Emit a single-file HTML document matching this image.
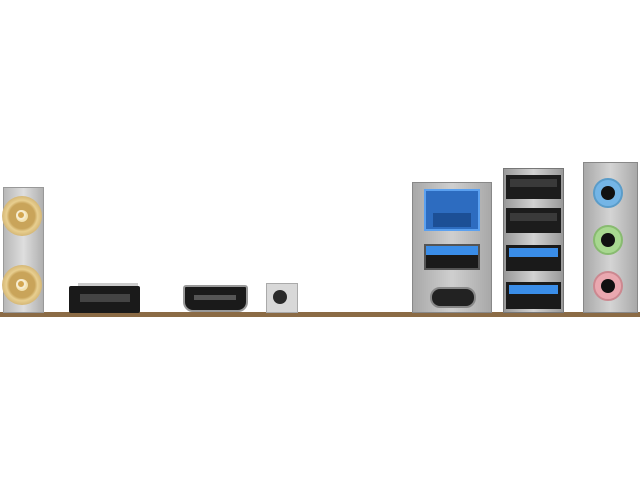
<!DOCTYPE html>
<html><head><style>
body{margin:0;width:640px;height:480px;background:#fff;position:relative;overflow:hidden}
div{position:absolute;box-sizing:border-box}
.c{border-radius:50%}
</style></head><body>
<div style="left:0;top:312px;width:640px;height:5px;background:#8b6b45"></div>
<!-- antenna plate -->
<div style="left:3px;top:187px;width:41px;height:126px;background:linear-gradient(90deg,#b8b8b8,#dedede,#b0b0b0);border:1px solid #999"></div>
<div class="c" style="left:2px;top:196px;width:40px;height:40px;background:radial-gradient(circle,#f3e2b0 0 20%,#c9a45a 22% 45%,#e8cf90 55%,#b28b45 100%)"></div>
<div class="c" style="left:16px;top:210px;width:10px;height:10px;background:#d4a650;border:2px solid #f6ecd0"></div>
<div class="c" style="left:2px;top:265px;width:40px;height:40px;background:radial-gradient(circle,#f3e2b0 0 20%,#c9a45a 22% 45%,#e8cf90 55%,#b28b45 100%)"></div>
<div class="c" style="left:16px;top:279px;width:10px;height:10px;background:#d4a650;border:2px solid #f6ecd0"></div>
<!-- DP -->
<div style="left:78px;top:283px;width:60px;height:4px;background:#ccc"></div>
<div style="left:69px;top:286px;width:71px;height:27px;background:#1a1a1a;border-radius:2px"></div>
<div style="left:80px;top:294px;width:50px;height:8px;background:#444"></div>
<!-- HDMI -->
<div style="left:183px;top:285px;width:65px;height:27px;background:#1a1a1a;border:2px solid #999;border-radius:3px 3px 10px 10px"></div>
<div style="left:194px;top:295px;width:42px;height:5px;background:#555"></div>
<!-- button -->
<div style="left:266px;top:283px;width:32px;height:30px;background:#d8d8d8;border:1px solid #aaa"></div>
<div class="c" style="left:273px;top:290px;width:14px;height:14px;background:#2a2a2a"></div>
<!-- LAN block -->
<div style="left:412px;top:182px;width:80px;height:131px;background:linear-gradient(90deg,#a8a8a8,#cfcfcf,#a8a8a8);border:1px solid #888"></div>
<div style="left:424px;top:189px;width:56px;height:42px;background:#2d6cc0;border:2px solid #5aa0f0"></div>
<div style="left:433px;top:213px;width:38px;height:14px;background:#1c4f96"></div>
<div style="left:424px;top:244px;width:56px;height:26px;background:#1a1a1a;border:2px solid #555"></div>
<div style="left:426px;top:246px;width:52px;height:9px;background:#3a8de8"></div>
<div style="left:430px;top:287px;width:46px;height:21px;background:#222;border:2px solid #888;border-radius:10px"></div>
<!-- USB stack -->
<div style="left:503px;top:168px;width:61px;height:145px;background:linear-gradient(90deg,#999,#d2d2d2,#999);border:1px solid #777"></div>
<div style="left:506px;top:175px;width:55px;height:24px;background:#1c1c1c"></div>
<div style="left:510px;top:179px;width:47px;height:8px;background:#3a3a3a"></div>
<div style="left:506px;top:208px;width:55px;height:25px;background:#1c1c1c"></div>
<div style="left:510px;top:213px;width:47px;height:8px;background:#3a3a3a"></div>
<div style="left:506px;top:245px;width:55px;height:26px;background:#1a1a1a"></div>
<div style="left:509px;top:248px;width:49px;height:9px;background:#3a8de8"></div>
<div style="left:506px;top:282px;width:55px;height:27px;background:#1a1a1a"></div>
<div style="left:509px;top:285px;width:49px;height:9px;background:#3a8de8"></div>
<!-- audio -->
<div style="left:583px;top:162px;width:55px;height:151px;background:linear-gradient(90deg,#a9a9a9,#d4d4d4,#a9a9a9);border:1px solid #888"></div>
<div class="c" style="left:593px;top:178px;width:30px;height:30px;background:#74b5e6;border:2px solid #5a9cc9"></div>
<div class="c" style="left:601px;top:186px;width:14px;height:14px;background:#111"></div>
<div class="c" style="left:593px;top:225px;width:30px;height:30px;background:#a8d890;border:2px solid #88bb70"></div>
<div class="c" style="left:601px;top:233px;width:14px;height:14px;background:#111"></div>
<div class="c" style="left:593px;top:271px;width:30px;height:30px;background:#eaa8b0;border:2px solid #cc8890"></div>
<div class="c" style="left:601px;top:279px;width:14px;height:14px;background:#111"></div>
</body></html>
